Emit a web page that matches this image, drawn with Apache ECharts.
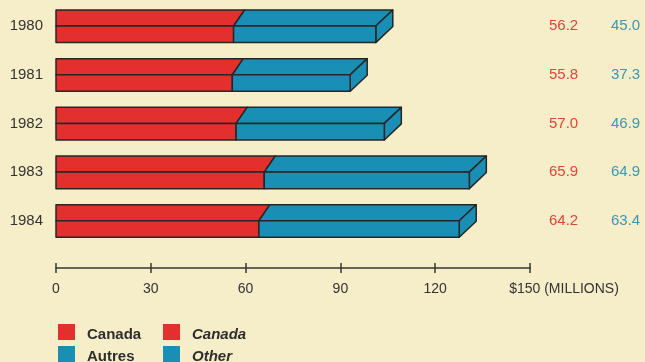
<!DOCTYPE html>
<html>
<head>
<meta charset="utf-8">
<script src="https://cdn.jsdelivr.net/npm/echarts@6/dist/echarts.min.js"></script>
<style>
html,body{margin:0;padding:0;background:#f6eec8;}
#chart{width:645px;height:362px;}
</style>
</head>
<body>
<div id="chart"></div>
<script>
const years = ['1980', '1981', '1982', '1983', '1984'];
const canada = [56.2, 55.8, 57.0, 65.9, 64.2];
const other = [45.0, 37.3, 46.9, 64.9, 63.4];
const xTicks = [0, 30, 60, 90, 120, 150];
const unitLabel = '(MILLIONS)';

const RED = '#e3302f';
const BLUE = '#1a8fb5';
const EDGE = '#262626';
const TXT = '#333333';

const chart = echarts.init(document.getElementById('chart'));

function renderItem(params, api) {
  const i = api.value(0);
  const c = api.value(1);
  const o = api.value(2);
  const p0 = api.coord([0, i]);
  const ps = api.coord([c, i]);
  const pe = api.coord([c + o, i]);
  const band = api.size([0, 1])[1];
  const x0 = p0[0], xs = ps[0], xe = pe[0], yc = p0[1];
  const t = band * 0.33;   // depth of top face
  const h = band * 0.34;   // height of front face
  const ds = 11;           // slant of split
  const de = 17;           // slant at end
  const st = {stroke: EDGE, lineWidth: 1.5, lineJoin: 'round'};
  return {
    type: 'group',
    children: [
      {type: 'polygon', shape: {points: [[x0, yc - t], [xs + ds, yc - t], [xs, yc], [x0, yc]]}, style: Object.assign({fill: RED}, st)},
      {type: 'polygon', shape: {points: [[xs + ds, yc - t], [xe + de, yc - t], [xe, yc], [xs, yc]]}, style: Object.assign({fill: BLUE}, st)},
      {type: 'polygon', shape: {points: [[xe, yc], [xe + de, yc - t], [xe + de, yc - t + h], [xe, yc + h]]}, style: Object.assign({fill: BLUE}, st)},
      {type: 'rect', shape: {x: x0, y: yc, width: xs - x0, height: h}, style: Object.assign({fill: RED}, st)},
      {type: 'rect', shape: {x: xs, y: yc, width: xe - xs, height: h}, style: Object.assign({fill: BLUE}, st)}
    ]
  };
}

const legendItems = [
  {x: 58, y: 324, color: RED, text: 'Canada', italic: false},
  {x: 163, y: 324, color: RED, text: 'Canada', italic: true},
  {x: 58, y: 346, color: BLUE, text: 'Autres', italic: false},
  {x: 163, y: 346, color: BLUE, text: 'Other', italic: true}
];
const graphic = [];
legendItems.forEach(function (it) {
  graphic.push({type: 'rect', left: it.x, top: it.y, shape: {width: 17, height: 16}, style: {fill: it.color}});
  graphic.push({type: 'text', left: it.x + 29, top: it.y + 3, style: {
    text: it.text, fill: '#2e2e2e', font: (it.italic ? 'italic ' : '') + 'bold 15px "Liberation Sans", Arial, sans-serif'
  }});
});

const option = {
  backgroundColor: '#f6eec8',
  animation: false,
  textStyle: {fontFamily: '"Liberation Sans", Arial, sans-serif'},
  grid: {left: 56, right: 115, top: 1.7, height: 243.4},
  xAxis: [{
    type: 'value', min: 0, max: 150, interval: 30, position: 'bottom', offset: 23,
    splitLine: {show: false},
    axisLine: {show: true, lineStyle: {color: '#333a30', width: 1.5}},
    axisTick: {show: true, length: 5, lineStyle: {color: '#333a30', width: 1.5}},
    axisLabel: {
      color: TXT, fontSize: 14, margin: 14,
      formatter: function (v) {
        if (v === xTicks[xTicks.length - 1]) return '{m|$' + v + ' ' + unitLabel + '}';
        return String(v);
      },
      rich: {m: {fontSize: 14, color: TXT, padding: [0, 0, 0, 68]}}
    }
  }, {
    type: 'value', min: 0, max: 150, interval: 30, position: 'bottom', offset: 23,
    splitLine: {show: false},
    axisLine: {show: false},
    axisTick: {show: true, inside: true, length: 5, lineStyle: {color: '#333a30', width: 1.5}},
    axisLabel: {show: false}
  }],
  yAxis: [{
    type: 'category', data: years, inverse: true,
    axisLine: {show: false}, axisTick: {show: false},
    axisLabel: {color: TXT, fontSize: 15, margin: 13, padding: [2, 0, 0, 0]}
  }, {
    type: 'category', data: years, inverse: true, position: 'right',
    axisLine: {show: false}, axisTick: {show: false},
    axisLabel: {
      margin: 19, align: 'left',
      formatter: function (v, idx) {
        return '{r|' + canada[idx].toFixed(1) + '}{b|' + other[idx].toFixed(1) + '}';
      },
      rich: {
        r: {color: '#e5423a', fontSize: 15, width: 62, align: 'left'},
        b: {color: '#3698ba', fontSize: 15, align: 'left'}
      }
    }
  }],
  graphic: graphic,
  series: [{
    type: 'custom',
    renderItem: renderItem,
    xAxisIndex: 0, yAxisIndex: 0,
    encode: {x: [1, 2], y: 0},
    clip: false,
    data: years.map(function (y, i) { return [i, canada[i], other[i]]; })
  }]
};
chart.setOption(option);
</script>
</body>
</html>
